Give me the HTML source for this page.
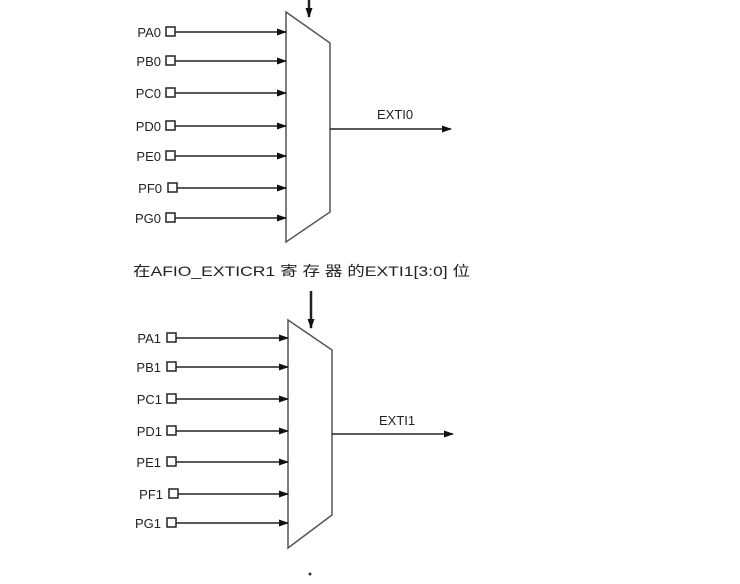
<!DOCTYPE html>
<html><head><style>body{margin:0;background:#fff}svg{display:block}text{font-family:"Liberation Sans","Noto Sans CJK SC",sans-serif;fill:#222}</style></head>
<body>
<svg width="740" height="584" viewBox="0 0 740 584" xmlns="http://www.w3.org/2000/svg">
<defs><marker id="a" markerWidth="10" markerHeight="10" refX="9" refY="5" orient="auto" markerUnits="userSpaceOnUse"><path d="M0,1.5 L10,5 L0,8.5z" fill="#111"/></marker></defs>
<g stroke="#222" stroke-width="1.5" fill="none">
<path d="M286,12 L330,43 L330,212 L286,242 Z" fill="#fff" stroke="#555"/>
<line x1="309" y1="0" x2="309" y2="17" stroke-width="2.5" marker-end="url(#a)"/>
<line x1="330" y1="129" x2="451" y2="129" marker-end="url(#a)"/>
<path d="M288,320 L332,350 L332,515 L288,548 Z" fill="#fff" stroke="#555"/>
<line x1="311" y1="291" x2="311" y2="328" stroke-width="2.5" marker-end="url(#a)"/>
<line x1="332" y1="434" x2="453" y2="434" marker-end="url(#a)"/>
</g>
<g stroke="#222" stroke-width="1.5" fill="none">
<rect x="166" y="27" width="9" height="9"/><line x1="175" y1="32" x2="286" y2="32" marker-end="url(#a)"/>
<rect x="166" y="56" width="9" height="9"/><line x1="175" y1="61" x2="286" y2="61" marker-end="url(#a)"/>
<rect x="166" y="88" width="9" height="9"/><line x1="175" y1="93" x2="286" y2="93" marker-end="url(#a)"/>
<rect x="166" y="121" width="9" height="9"/><line x1="175" y1="126" x2="286" y2="126" marker-end="url(#a)"/>
<rect x="166" y="151" width="9" height="9"/><line x1="175" y1="156" x2="286" y2="156" marker-end="url(#a)"/>
<rect x="168" y="183" width="9" height="9"/><line x1="177" y1="188" x2="286" y2="188" marker-end="url(#a)"/>
<rect x="166" y="213" width="9" height="9"/><line x1="175" y1="218" x2="286" y2="218" marker-end="url(#a)"/>
<rect x="167" y="333" width="9" height="9"/><line x1="176" y1="338" x2="288" y2="338" marker-end="url(#a)"/>
<rect x="167" y="362" width="9" height="9"/><line x1="176" y1="367" x2="288" y2="367" marker-end="url(#a)"/>
<rect x="167" y="394" width="9" height="9"/><line x1="176" y1="399" x2="288" y2="399" marker-end="url(#a)"/>
<rect x="167" y="426" width="9" height="9"/><line x1="176" y1="431" x2="288" y2="431" marker-end="url(#a)"/>
<rect x="167" y="457" width="9" height="9"/><line x1="176" y1="462" x2="288" y2="462" marker-end="url(#a)"/>
<rect x="169" y="489" width="9" height="9"/><line x1="178" y1="494" x2="288" y2="494" marker-end="url(#a)"/>
<rect x="167" y="518" width="9" height="9"/><line x1="176" y1="523" x2="288" y2="523" marker-end="url(#a)"/>
</g>
<g font-size="13" text-anchor="end">
<text x="161" y="37">PA0</text><text x="161" y="66">PB0</text><text x="161" y="98">PC0</text><text x="161" y="131">PD0</text><text x="161" y="161">PE0</text><text x="162" y="193">PF0</text><text x="161" y="223">PG0</text>
<text x="161" y="343">PA1</text><text x="161" y="372">PB1</text><text x="162" y="404">PC1</text><text x="162" y="436">PD1</text><text x="161" y="467">PE1</text><text x="163" y="499">PF1</text><text x="161" y="528">PG1</text>
</g>
<text x="377" y="119" font-size="13">EXTI0</text>
<text x="379" y="425" font-size="13">EXTI1</text>
<text x="133" y="276" font-size="14" textLength="337" lengthAdjust="spacingAndGlyphs">在AFIO_EXTICR1 寄 存 器 的EXTI1[3:0] 位</text>
<circle cx="310" cy="574" r="1.5" fill="#333"/>
</svg>
</body></html>
